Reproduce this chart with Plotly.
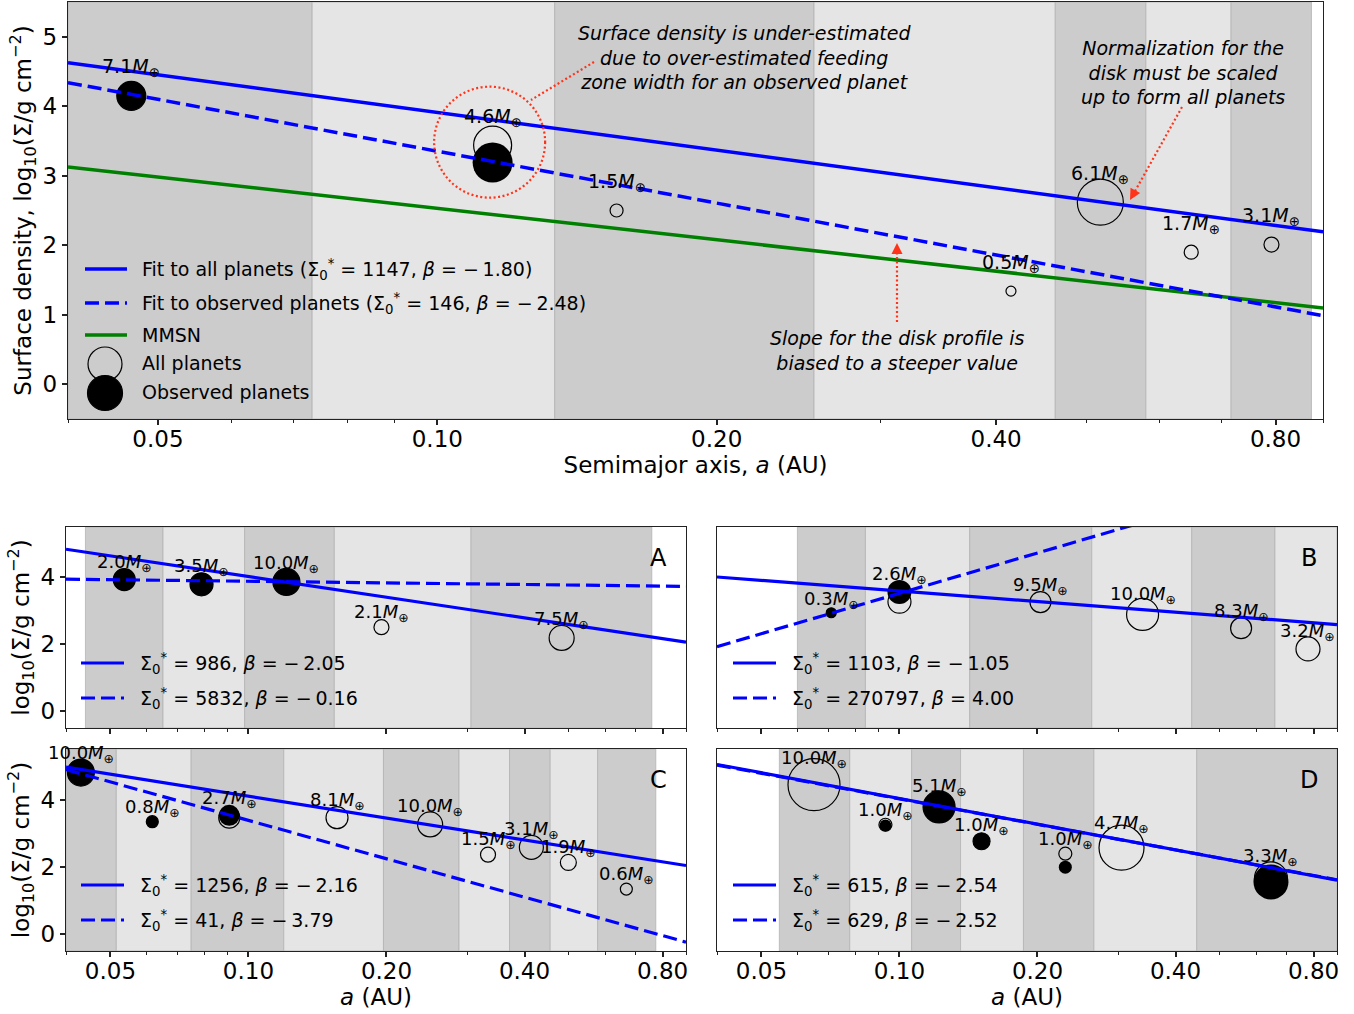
import numpy as np
import plotly.graph_objects as go

W, H = 1354, 1014
A_MIN, A_MAX = 0.04, 0.9
Y_MIN, Y_MAX = -0.5, 5.5

# ------------------------------------------------------------------ DATA
a_tick_vals = [0.05, 0.10, 0.20, 0.40, 0.80]
a_tick_labels = ["0.05", "0.10", "0.20", "0.40", "0.80"]
a_minor_vals = [0.04, 0.06, 0.07, 0.08, 0.09, 0.3, 0.5, 0.6, 0.7, 0.9]

# Top panel (log10 Sigma values)
top_a = [0.0468, 0.1147, 0.156, 0.415, 0.518, 0.649, 0.792]
top_mass = [7.1, 4.6, 1.5, 0.5, 6.1, 1.7, 3.1]
top_sig_all = [4.15, 3.44, 2.50, 1.34, 2.62, 1.90, 2.01]
top_sig_obs = [4.15, 3.19, None, None, None, None, None]
top_zones = [0.040, 0.0733, 0.1338, 0.2546, 0.4632, 0.580, 0.7165, 0.8746]
# fits: Sigma0*, beta, log10 Sigma at 1 AU as drawn
top_fit_all = [1147, -1.80, 2.11]
top_fit_obs = [146, -2.48, 0.873]
mmsn_fit = [-1.50, 1.03]

# Panel A
A_a = [0.0536, 0.079, 0.121, 0.195, 0.482]
A_mass = [2.0, 3.5, 10.0, 2.1, 7.5]
A_sig_all = [3.93, 3.79, 3.86, 2.51, 2.19]
A_sig_obs = [3.93, 3.79, 3.86, None, None]
A_zones = [0.0441, 0.0651, 0.0981, 0.1539, 0.3058, 0.758]
A_fit_all = [986, -2.05, 1.97]
A_fit_obs = [5832, -0.16, 3.72]

# Panel B
B_a = [0.071, 0.100, 0.203, 0.339, 0.556, 0.778]
B_mass = [0.3, 2.6, 9.5, 10.0, 8.3, 3.2]
B_sig_all = [2.94, 3.27, 3.26, 2.89, 2.48, 1.86]
B_sig_obs = [2.94, 3.56, None, None, None, None]
B_zones = [0.0599, 0.0843, 0.1423, 0.2627, 0.434, 0.659, 0.9]
B_fit_all = [1103, -1.05, 2.54]
B_fit_obs = [270797, 4.00, 7.52]

# Panel C
C_a = [0.0431, 0.0617, 0.0908, 0.156, 0.249, 0.333, 0.414, 0.4985, 0.667]
C_mass = [10.0, 0.8, 2.7, 8.1, 10.0, 1.5, 3.1, 1.9, 0.6]
C_sig_all = [4.80, 3.34, 3.46, 3.46, 3.26, 2.36, 2.58, 2.13, 1.34]
C_sig_obs = [4.80, 3.34, 3.53, None, None, None, None, None, None]
C_zones = [0.040, 0.0515, 0.075, 0.1194, 0.197, 0.2879, 0.371, 0.455, 0.5776, 0.7734]
C_fit_all = [1256, -2.16, 1.94]
C_fit_obs = [41, -3.79, -0.41]

# Panel D
D_a = [0.0651, 0.0932, 0.122, 0.151, 0.230, 0.305, 0.646]
D_mass = [10.0, 1.0, 5.1, 1.0, 1.0, 4.7, 3.3]
D_sig_all = [4.44, 3.25, 3.78, 2.76, 2.39, 2.57, 1.66]
D_sig_obs = [None, 3.23, 3.78, 2.76, 1.99, None, 1.55]
D_zones = [0.0547, 0.0779, 0.1063, 0.1359, 0.1864, 0.2655, 0.445, 0.9]
D_fit_all = [615, -2.54, 1.49]
D_fit_obs = [629, -2.52, 1.50]

# ------------------------------------------------------------------ STYLE
FONT = "DejaVu Sans"
SPINE = "#222222"
DARK, LIGHT = "#cccccc", "#e5e5e5"
EDGE = "#b4b4b4"
BLUE, GREEN, RED = "#0000ff", "#008000", "#ff3319"
DASH = "14px,6px"

# marker diameters (px) – style only
top_d_all = [29, 38, 13, 10, 46, 14, 15]
top_d_obs = [29, 40, 0, 0, 0, 0, 0]
A_d_all = [22, 23, 27, 15, 25]
A_d_obs = [22, 23, 27, 0, 0]
B_d_all = [10, 23, 21, 32, 21, 24]
B_d_obs = [10, 24, 0, 0, 0, 0]
C_d_all = [27, 12, 21, 22, 25, 15, 24, 16, 12]
C_d_obs = [27, 12, 21, 0, 0, 0, 0, 0, 0]
D_d_all = [52, 13, 32, 17, 13, 45, 33]
D_d_obs = [0, 12, 32, 17, 13, 0, 35]

def fx(p):
    return p / W

def fy(p):
    return 1 - p / H

fig = go.Figure()
shapes, annotations = [], []

panels = [
    dict(n="", xd=(68, 1323), yd=(2, 419), a=top_a, m=top_mass, sa=top_sig_all, so=top_sig_obs,
         zones=top_zones, da=top_d_all, do=top_d_obs, fits=(top_fit_all, top_fit_obs), lw=3.5,
         lab_font=19, lab_shift=lambda d: 28, xl=True, yl=True,
         xtitle="Semimajor axis, <i>a</i> (AU)",
         ytitle="Surface density, log<sub>10</sub>(Σ/g cm<sup>−2</sup>)", yticks=[0, 1, 2, 3, 4, 5]),
    dict(n="2", xd=(66, 686), yd=(527, 728), a=A_a, m=A_mass, sa=A_sig_all, so=A_sig_obs,
         zones=A_zones, da=A_d_all, do=A_d_obs, fits=(A_fit_all, A_fit_obs), lw=3.2,
         lab_font=18, lab_shift=lambda d: 10 + 0.31 * d, xl=False, yl=True, xtitle="",
         ytitle="log<sub>10</sub>(Σ/g cm<sup>−2</sup>)", yticks=[0, 2, 4], letter="A"),
    dict(n="3", xd=(717, 1337), yd=(527, 728), a=B_a, m=B_mass, sa=B_sig_all, so=B_sig_obs,
         zones=B_zones, da=B_d_all, do=B_d_obs, fits=(B_fit_all, B_fit_obs), lw=3.2,
         lab_font=18, lab_shift=lambda d: 10 + 0.31 * d, xl=False, yl=False, xtitle="",
         ytitle="", yticks=[0, 2, 4], letter="B"),
    dict(n="4", xd=(66, 686), yd=(749, 951), a=C_a, m=C_mass, sa=C_sig_all, so=C_sig_obs,
         zones=C_zones, da=C_d_all, do=C_d_obs, fits=(C_fit_all, C_fit_obs), lw=3.2,
         lab_font=18, lab_shift=lambda d: 10 + 0.31 * d, xl=True, yl=True, xtitle="<i>a</i> (AU)",
         ytitle="log<sub>10</sub>(Σ/g cm<sup>−2</sup>)", yticks=[0, 2, 4], letter="C"),
    dict(n="5", xd=(717, 1337), yd=(749, 951), a=D_a, m=D_mass, sa=D_sig_all, so=D_sig_obs,
         zones=D_zones, da=D_d_all, do=D_d_obs, fits=(D_fit_all, D_fit_obs), lw=3.2,
         lab_font=18, lab_shift=lambda d: 10 + 0.31 * d, xl=True, yl=False, xtitle="<i>a</i> (AU)",
         ytitle="", yticks=[0, 2, 4], letter="D"),
]

layout_axes = {}
line_x = np.array([A_MIN, A_MAX])

for p in panels:
    n = p["n"]
    xa, ya = "x" + n, "y" + n
    # feeding-zone bands
    z = p["zones"]
    for i in range(len(z) - 1):
        shapes.append(dict(type="rect", xref=xa, yref=ya + " domain", x0=z[i], x1=z[i + 1], y0=0, y1=1,
                           fillcolor=DARK if i % 2 == 0 else LIGHT, line=dict(color=EDGE, width=0.8),
                           layer="below"))
    # open markers (all planets)
    ia = [i for i, v in enumerate(p["sa"]) if v is not None]
    fig.add_trace(go.Scatter(x=[p["a"][i] for i in ia], y=[p["sa"][i] for i in ia], mode="markers",
                             marker=dict(symbol="circle", size=[p["da"][i] for i in ia], opacity=1,
                                         color="rgba(0,0,0,0)", line=dict(color="black", width=1.2)),
                             xaxis=xa, yaxis=ya, showlegend=False, hoverinfo="skip"))
    # filled markers (observed planets)
    io = [i for i, v in enumerate(p["so"]) if v is not None]
    fig.add_trace(go.Scatter(x=[p["a"][i] for i in io], y=[p["so"][i] for i in io], mode="markers",
                             marker=dict(symbol="circle", size=[p["do"][i] for i in io], opacity=1,
                                         color="black", line=dict(color="black", width=0)),
                             xaxis=xa, yaxis=ya, showlegend=False, hoverinfo="skip"))
    # fit lines
    f_all, f_obs = p["fits"]
    if n == "":
        fig.add_trace(go.Scatter(x=line_x, y=mmsn_fit[1] + mmsn_fit[0] * np.log10(line_x), mode="lines",
                                 line=dict(color=GREEN, width=p["lw"]), xaxis=xa, yaxis=ya,
                                 showlegend=False, hoverinfo="skip"))
    fig.add_trace(go.Scatter(x=line_x, y=f_obs[2] + f_obs[1] * np.log10(line_x), mode="lines",
                             line=dict(color=BLUE, width=p["lw"], dash=DASH), xaxis=xa, yaxis=ya,
                             showlegend=False, hoverinfo="skip"))
    fig.add_trace(go.Scatter(x=line_x, y=f_all[2] + f_all[1] * np.log10(line_x), mode="lines",
                             line=dict(color=BLUE, width=p["lw"]), xaxis=xa, yaxis=ya,
                             showlegend=False, hoverinfo="skip"))
    # planet mass labels
    for i, m in enumerate(p["m"]):
        vals = [v for v in (p["sa"][i], p["so"][i]) if v is not None]
        d = max(p["da"][i], p["do"][i])
        annotations.append(dict(x=np.log10(p["a"][i]), y=max(vals), xref=xa, yref=ya,
                                text=f"{m:.1f}<i>M</i><sub>⊕</sub>", showarrow=False,
                                yshift=p["lab_shift"](d), font=dict(size=p["lab_font"], color="black"),
                                xanchor="center", yanchor="middle"))
    # axes
    layout_axes["xaxis" + n] = dict(
        type="log", domain=[fx(p["xd"][0]), fx(p["xd"][1])], range=[np.log10(A_MIN), np.log10(A_MAX)],
        anchor=ya, showline=True, mirror=True, linecolor=SPINE, linewidth=1.3,
        ticks="outside", ticklen=5, tickwidth=1.5, tickcolor=SPINE,
        tickmode="array", tickvals=a_tick_vals, ticktext=a_tick_labels, showticklabels=p["xl"],
        tickfont=dict(size=23, color="black", family=FONT), ticklabelstandoff=-6,
        minor=dict(tickmode="array", tickvals=a_minor_vals, ticks="outside", ticklen=3, tickwidth=1,
                   tickcolor=SPINE),
        showgrid=False, zeroline=False, automargin=False,
        title=dict(text=p["xtitle"], font=dict(size=23, color="black", family=FONT), standoff=0))
    layout_axes["yaxis" + n] = dict(
        domain=[fy(p["yd"][1]), fy(p["yd"][0])], range=[Y_MIN, Y_MAX], anchor=xa,
        showline=True, mirror=True, linecolor=SPINE, linewidth=1.3,
        ticks="outside" if p["yl"] else "", ticklen=5, tickwidth=1.5, tickcolor=SPINE,
        tickmode="array", tickvals=p["yticks"], showticklabels=p["yl"],
        tickfont=dict(size=23, color="black", family=FONT),
        showgrid=False, zeroline=False, automargin=False,
        title=dict(text=p["ytitle"], font=dict(size=23, color="black", family=FONT), standoff=4))
    if "letter" in p:
        annotations.append(dict(x=fx(p["xd"][1] - 28), y=fy(p["yd"][0] + 31), xref="paper", yref="paper",
                                text=p["letter"], showarrow=False, font=dict(size=24, color="black"),
                                xanchor="center", yanchor="middle"))

# ------------------------------------------------------------------ legends
def fmt_beta(b):
    s = f"{abs(b):.2f}"
    return ("−\u2009" + s) if b < 0 else s

def sig_label(f):
    return f"Σ<sub>0</sub><sup>*</sup> = {f[0]}, <i>β</i> = {fmt_beta(f[1])}"

def leg_line(x0, x1, y, color, dash, w):
    shapes.append(dict(type="line", xref="paper", yref="paper", x0=fx(x0), x1=fx(x1), y0=fy(y), y1=fy(y),
                       line=dict(color=color, width=w, dash=dash)))

def leg_text(x, y, text, size):
    annotations.append(dict(x=fx(x), y=fy(y), xref="paper", yref="paper", text=text, showarrow=False,
                            xanchor="left", yanchor="middle", font=dict(size=size, color="black")))

def leg_circle(cx, cy, d, filled):
    r = d / 2
    shapes.append(dict(type="circle", xref="paper", yref="paper", x0=fx(cx - r), x1=fx(cx + r),
                       y0=fy(cy + r), y1=fy(cy - r),
                       fillcolor="black" if filled else "rgba(0,0,0,0)",
                       line=dict(color="black", width=1.2)))

# top legend
leg_line(85, 127, 269, BLUE, "solid", 3.5)
leg_text(140, 269, "Fit to all planets (" + sig_label(top_fit_all) + ")", 19)
leg_line(85, 127, 303, BLUE, DASH, 3.5)
leg_text(140, 303, "Fit to observed planets (" + sig_label(top_fit_obs) + ")", 19)
leg_line(85, 127, 335, GREEN, "solid", 3.5)
leg_text(140, 335, "MMSN", 19)
leg_circle(105, 364, 34, False)
leg_text(140, 363, "All planets", 19)
leg_circle(105, 393, 35, True)
leg_text(140, 392, "Observed planets", 19)

# panel legends
for (x0, y0, fa, fo) in [(81, 663, A_fit_all, A_fit_obs), (733, 663, B_fit_all, B_fit_obs),
                         (81, 885, C_fit_all, C_fit_obs), (733, 885, D_fit_all, D_fit_obs)]:
    leg_line(x0, x0 + 43, y0, BLUE, "solid", 3.2)
    leg_text(x0 + 57, y0, sig_label(fa), 19)
    leg_line(x0, x0 + 43, y0 + 35, BLUE, DASH, 3.2)
    leg_text(x0 + 57, y0 + 35, sig_label(fo), 19)

# ------------------------------------------------------------------ explanatory notes
def note(x, y, text):
    annotations.append(dict(x=fx(x), y=fy(y), xref="paper", yref="paper", text=text, showarrow=False,
                            xanchor="center", yanchor="middle", align="center",
                            font=dict(size=19, color="black")))

note(744, 58, "<i>Surface density is under-estimated<br>due to over-estimated feeding<br>zone width for an observed planet</i>")
note(1183, 72, "<i>Normalization for the<br>disk must be scaled<br>up to form all planets</i>")
note(897, 350, "<i>Slope for the disk profile is<br>biased to a steeper value</i>")

# dotted circle around the 4.6 M_earth planet (positioned from the top axis scale)
TOP_X0, TOP_X1, TOP_Y0, TOP_Y1 = 68, 1323, 2, 419

def top_px(a, v):
    px = TOP_X0 + (np.log10(a) - np.log10(A_MIN)) / (np.log10(A_MAX) - np.log10(A_MIN)) * (TOP_X1 - TOP_X0)
    py = TOP_Y0 + (Y_MAX - v) / (Y_MAX - Y_MIN) * (TOP_Y1 - TOP_Y0)
    return px, py

cx, cy = top_px(top_a[1], top_sig_all[1])
cx -= 3
cy -= 3
R = 55.5
shapes.append(dict(type="circle", xref="paper", yref="paper", x0=fx(cx - R), x1=fx(cx + R),
                   y0=fy(cy + R), y1=fy(cy - R),
                   line=dict(color=RED, width=2.2, dash="2px,2.5px")))

def dotted(x0, y0, x1, y1):
    shapes.append(dict(type="line", xref="paper", yref="paper", x0=fx(x0), y0=fy(y0), x1=fx(x1), y1=fy(y1),
                       line=dict(color=RED, width=2.2, dash="2px,2.5px")))

def head(x, y, ax, ay):
    annotations.append(dict(x=fx(x), y=fy(y), xref="paper", yref="paper", text="", showarrow=True,
                            ax=ax, ay=ay, arrowhead=2, arrowsize=1.1, arrowwidth=2, arrowcolor=RED))

dotted(594, 62, 531, 100)
dotted(1182, 107, 1134, 193)
head(1130, 200, 5, -9)
dotted(897, 322, 897, 252)
head(897, 243, 0, 10)

fig.update_layout(
    width=W, height=H, margin=dict(l=0, r=0, t=0, b=0), template="none",
    paper_bgcolor="white", plot_bgcolor="white", showlegend=False,
    font=dict(family=FONT, color="black"),
    shapes=shapes, annotations=annotations, **layout_axes)

fig.write_html("out.html")
